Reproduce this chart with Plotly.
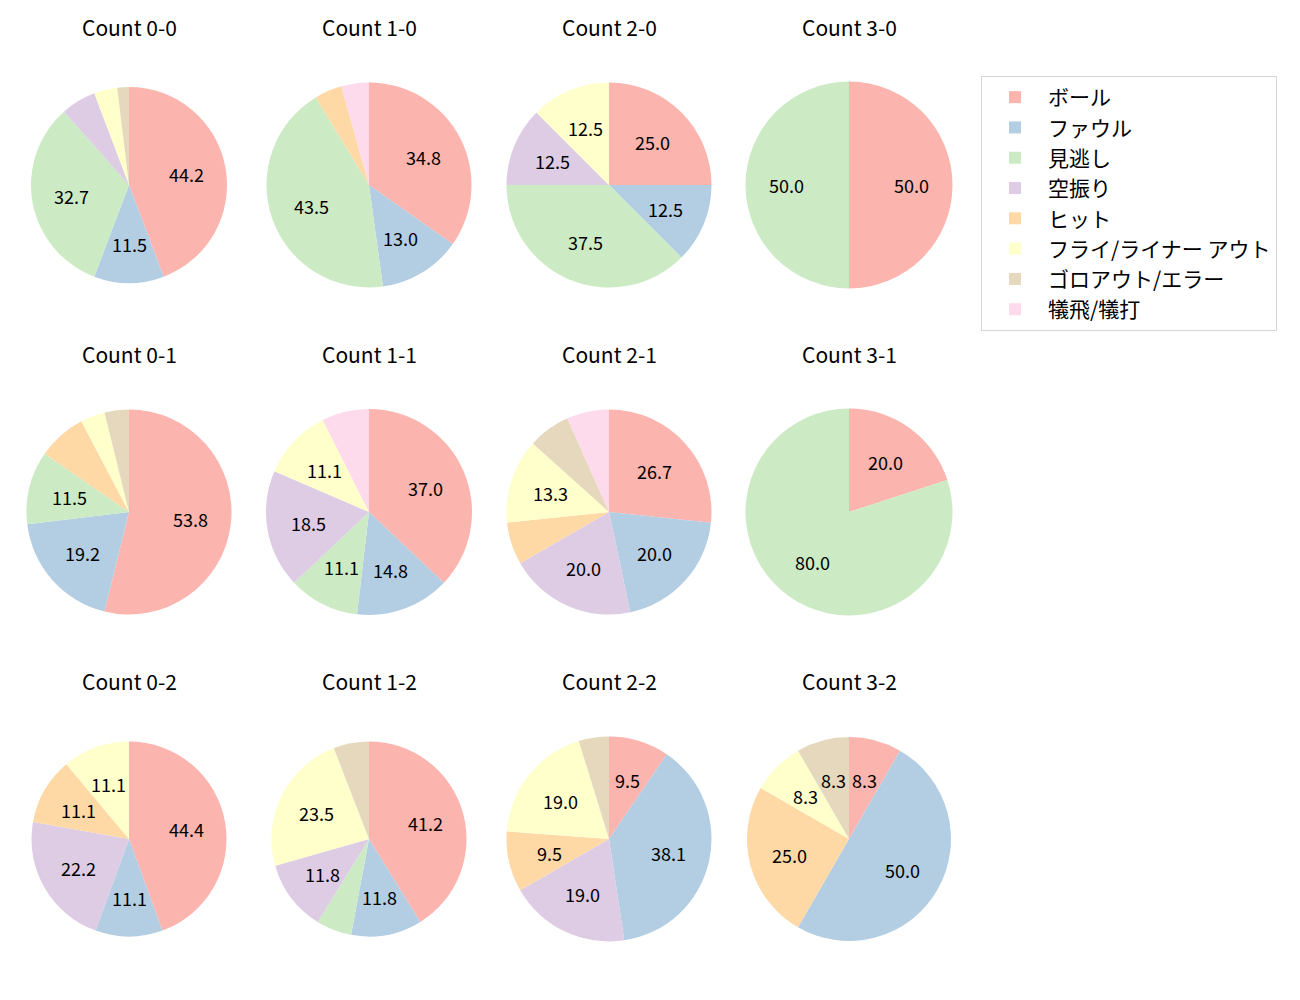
import math
import plotly.graph_objects as go

labels = ["ボール", "ファウル", "見逃し", "空振り", "ヒット",
          "フライ/ライナー アウト", "ゴロアウト/エラー", "犠飛/犠打"]
colors = ["#fbb4ae", "#b3cde3", "#ccebc5", "#decbe4", "#fed9a6",
          "#ffffcc", "#e5d8bd", "#fddaec"]

titles = ["Count 0-0", "Count 1-0", "Count 2-0", "Count 3-0",
          "Count 0-1", "Count 1-1", "Count 2-1", "Count 3-1",
          "Count 0-2", "Count 1-2", "Count 2-2", "Count 3-2"]

# pitch counts per outcome, in label order
counts = [
    [23, 6, 17, 3, 0, 2, 1, 0],   # 0-0
    [8, 3, 10, 0, 1, 0, 0, 1],    # 1-0
    [2, 1, 3, 1, 0, 1, 0, 0],     # 2-0
    [1, 0, 1, 0, 0, 0, 0, 0],     # 3-0
    [14, 5, 3, 0, 2, 1, 1, 0],    # 0-1
    [10, 4, 3, 5, 0, 3, 0, 2],    # 1-1
    [4, 3, 0, 3, 1, 2, 1, 1],     # 2-1
    [1, 0, 4, 0, 0, 0, 0, 0],     # 3-1
    [4, 1, 0, 2, 1, 1, 0, 0],     # 0-2
    [7, 2, 1, 2, 0, 4, 1, 0],     # 1-2
    [2, 8, 0, 4, 2, 4, 1, 0],     # 2-2
    [1, 6, 0, 0, 3, 1, 1, 0],     # 3-2
]

W, H = 1300, 1000
col_cx = [129, 369, 609, 849]
row_cy = [185, 512, 839]
title_y = [27, 354, 681]
radii = [98, 102.5, 102.5, 103.5,
         102.5, 103, 102.5, 103.5,
         97.5, 97.5, 102.5, 102]
FONT = "Noto Sans CJK JP, Noto Sans, sans-serif"

fig = go.Figure()
annotations = []
for i, vals in enumerate(counts):
    r_, c_ = divmod(i, 4)
    cx, cy, rad = col_cx[c_], row_cy[r_], radii[i]
    fig.add_trace(go.Pie(
        labels=labels, values=vals, sort=False, direction="clockwise",
        rotation=0, textinfo="none", hoverinfo="label+percent",
        marker=dict(colors=colors, line=dict(width=0)),
        domain=dict(x=[(cx - rad) / W, (cx + rad) / W],
                    y=[1 - (cy + rad) / H, 1 - (cy - rad) / H]),
        showlegend=(i == 0),
    ))
    total = sum(vals)
    cum = 0
    for v in vals:
        frac = v / total
        pct = frac * 100
        if v > 0 and pct >= 8:
            th = math.radians(90 - 360 * (cum + frac / 2))
            x = (cx + 0.6 * rad * math.cos(th)) / W
            y = 1 - (cy - 0.6 * rad * math.sin(th)) / H
            annotations.append(dict(
                x=x, y=y, xref="paper", yref="paper", text=f"{pct:.1f}",
                showarrow=False, xanchor="center", yanchor="middle",
                font=dict(size=18, color="#000000", family=FONT)))
        cum += frac
    annotations.append(dict(
        x=cx / W, y=1 - title_y[r_] / H, xref="paper", yref="paper",
        text=titles[i], showarrow=False, xanchor="center", yanchor="middle",
        font=dict(size=21, color="#000000", family=FONT)))

fig.update_layout(
    width=W, height=H,
    margin=dict(l=0, r=0, t=0, b=0),
    paper_bgcolor="white", plot_bgcolor="white",
    annotations=annotations,
    legend=dict(x=981 / W, y=1 - 76 / H, xanchor="left", yanchor="top",
                bgcolor="white", bordercolor="#d5d5d5", borderwidth=1,
                font=dict(size=21, color="#000000", family=FONT),
                itemwidth=56, traceorder="normal"),
    font=dict(family=FONT),
)
fig.write_html("out.html")
